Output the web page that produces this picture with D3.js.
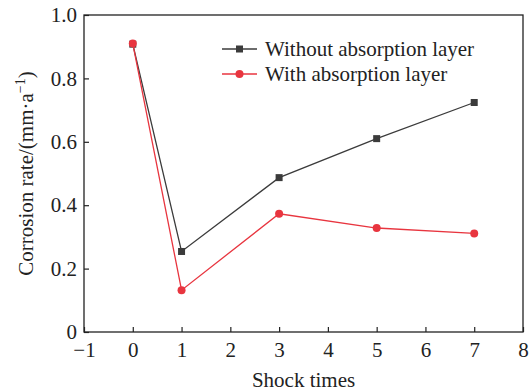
<!DOCTYPE html>
<html>
<head>
<meta charset="utf-8">
<script src="https://cdn.jsdelivr.net/npm/d3@7"></script>
<style>
    body { margin: 0; background: #ffffff; }
    svg { display: block; font-family: "Liberation Serif", "Times New Roman", serif; }
</style>
</head>
<body>
<svg id="chart" width="530" height="392"></svg>
<script>
/* ---------- data ---------- */
const shockTimes = [0, 1, 3, 5, 7];
const withoutLayer = [0.908, 0.254, 0.487, 0.610, 0.724];
const withLayer = [0.910, 0.132, 0.373, 0.328, 0.311];
const xTicks = [-1, 0, 1, 2, 3, 4, 5, 6, 7, 8];
const yTicks = [0, 0.2, 0.4, 0.6, 0.8, 1.0];
const seriesNames = ["Without absorption layer", "With absorption layer"];

/* ---------- layout ---------- */
const MARGIN = { top: 15, right: 7, bottom: 60, left: 84 };
const WIDTH = 530, HEIGHT = 392;
const innerW = WIDTH - MARGIN.left - MARGIN.right;
const innerH = HEIGHT - MARGIN.top - MARGIN.bottom;
const FONT_SIZE = 21;

const BLACK = "#3b3b3b";
const RED = "#e8353f";

const svg = d3.select("#chart");
const g = svg.append("g")
    .attr("transform", `translate(${MARGIN.left},${MARGIN.top})`);

const x = d3.scaleLinear().domain([-1, 8]).range([0, innerW]);
const y = d3.scaleLinear().domain([0, 1]).range([innerH, 0]);

/* ---------- axes ---------- */
const xAxis = g.append("g")
    .attr("transform", `translate(0,${innerH})`)
    .call(d3.axisBottom(x).tickValues(xTicks).tickSizeInner(-5).tickSizeOuter(0)
        .tickFormat(d => d < 0 ? "\u2212" + Math.abs(d) : d));

const yAxis = g.append("g")
    .call(d3.axisLeft(y).tickValues(yTicks).tickSizeInner(-5).tickSizeOuter(0)
        .tickFormat(d => d === 0 ? "0" : d3.format(".1f")(d)));

[xAxis, yAxis].forEach(a => {
    a.select(".domain").remove();
    a.selectAll("line").attr("stroke", "#222").attr("stroke-width", 1.2);
    a.selectAll("text")
        .attr("fill", "#222")
        .attr("font-size", FONT_SIZE)
        .attr("font-family", "Liberation Serif, serif");
});
xAxis.selectAll("text").attr("dy", 0).attr("y", 25);
yAxis.selectAll("text").attr("x", -7);

/* frame */
g.append("rect")
    .attr("x", 0).attr("y", 0)
    .attr("width", innerW).attr("height", innerH)
    .attr("fill", "none")
    .attr("stroke", "#222")
    .attr("stroke-width", 1.3);

/* axis titles */
svg.append("text")
    .attr("x", MARGIN.left + innerW / 2)
    .attr("y", 387)
    .attr("text-anchor", "middle")
    .attr("font-size", FONT_SIZE)
    .attr("fill", "#222")
    .text("Shock times");

const yTitle = svg.append("text")
    .attr("transform", `translate(33,${MARGIN.top + innerH / 2}) rotate(-90)`)
    .attr("text-anchor", "middle")
    .attr("font-size", FONT_SIZE)
    .attr("fill", "#222");
yTitle.append("tspan").text("Corrosion rate/(mm\u00b7a");
yTitle.append("tspan").attr("dy", -8).attr("font-size", 14).text("\u22121");
yTitle.append("tspan").attr("dy", 8).text(")");

/* ---------- series ---------- */
const line = d3.line()
    .x((_, i) => x(shockTimes[i]))
    .y(v => y(v));

function drawSquares(values, color) {
    g.selectAll(null)
        .data(values)
        .enter()
        .append("rect")
        .attr("x", (_, i) => x(shockTimes[i]) - 3.5)
        .attr("y", v => y(v) - 3.5)
        .attr("width", 7)
        .attr("height", 7)
        .attr("fill", color);
}

function drawCircles(values, color) {
    g.selectAll(null)
        .data(values)
        .enter()
        .append("circle")
        .attr("cx", (_, i) => x(shockTimes[i]))
        .attr("cy", v => y(v))
        .attr("r", 4)
        .attr("fill", color);
}

g.append("path").datum(withoutLayer)
    .attr("d", line).attr("fill", "none")
    .attr("stroke", BLACK).attr("stroke-width", 1.3);
drawSquares(withoutLayer, BLACK);

g.append("path").datum(withLayer)
    .attr("d", line).attr("fill", "none")
    .attr("stroke", RED).attr("stroke-width", 1.3);
drawCircles(withLayer, RED);

/* ---------- legend ---------- */
const legend = svg.append("g").attr("transform", "translate(222,49)");
seriesNames.forEach((name, i) => {
    const color = i === 0 ? BLACK : RED;
    const row = legend.append("g").attr("transform", `translate(0,${i * 25})`);
    row.append("line")
        .attr("x1", 0).attr("x2", 35)
        .attr("stroke", color).attr("stroke-width", 1.3);
    if (i === 0) {
        row.append("rect").attr("x", 14).attr("y", -3.5)
            .attr("width", 7).attr("height", 7).attr("fill", color);
    } else {
        row.append("circle").attr("cx", 17.5).attr("r", 4).attr("fill", color);
    }
    row.append("text")
        .attr("x", 43).attr("y", 7)
        .attr("font-size", FONT_SIZE)
        .attr("fill", "#222")
        .text(name);
});
</script>
</body>
</html>
